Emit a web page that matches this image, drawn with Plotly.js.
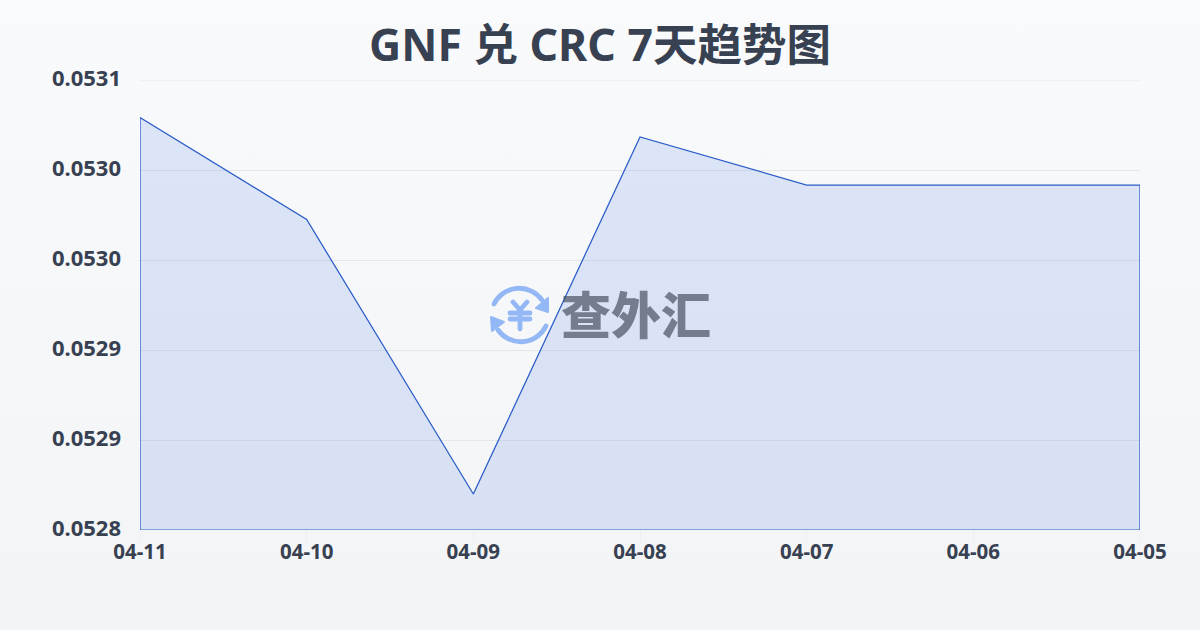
<!DOCTYPE html>
<html><head><meta charset="utf-8">
<script src="https://cdn.plot.ly/plotly-3.0.1.min.js"></script>
<style>
html,body{margin:0;padding:0;width:1200px;height:630px;overflow:hidden;background:linear-gradient(180deg,#f9fafc 0%,#f3f4f6 100%);}
#chart{width:1200px;height:630px;}
</style></head><body><div id="chart"></div>
<script>
const dates = ["04-11","04-10","04-09","04-08","04-07","04-06","04-05"];
const rates = [0.053075,0.053007,0.052824,0.053062,0.053030,0.053030,0.053030];
const yTicks = [0.0528,0.05286,0.05292,0.05298,0.05304,0.0531];
const yLabels = ["0.0528","0.0529","0.0529","0.0530","0.0530","0.0531"];
const yBase = 0.0528, yTop = 0.0531;
const titleText = "GNF 兑 CRC 7天趋势图";
const logoText = "查外汇";

const ink = "#374151";
const iconBlue = "#93b8f5";
const icon = `<svg xmlns="http://www.w3.org/2000/svg" width="240" height="240" viewBox="0 0 60 60"><g fill="none" stroke="${iconBlue}" stroke-width="4.8" stroke-linecap="round" stroke-linejoin="round"><path d="M4 19A28 28 0 0 1 52 15"/><path d="M56 41A28 28 0 0 1 8 45"/><path d="M23 17L30 25L37 17M30 25V44M20 28H40M20 34H40"/></g><path d="M58 13L58 27L46 23Z" fill="${iconBlue}" stroke="${iconBlue}" stroke-width="2" stroke-linejoin="round"/><path d="M1 32L2 46L14 37Z" fill="${iconBlue}" stroke="${iconBlue}" stroke-width="2" stroke-linejoin="round"/></svg>`;

const xs = [0,...dates.map((_,i)=>i),dates.length-1,0];
const ys = [yBase,...rates,yBase,yBase];

Plotly.newPlot("chart",[{
  type:"scatter",mode:"lines",x:xs,y:ys,fill:"toself",
  fillcolor:"rgba(37,97,224,0.135)",
  line:{color:"#2a5cc8",width:1.25},
  hoverinfo:"skip",cliponaxis:false
}],{
  width:1200,height:630,showlegend:false,
  paper_bgcolor:"rgba(0,0,0,0)",plot_bgcolor:"rgba(0,0,0,0)",
  margin:{l:140,r:60,t:80,b:100},
  title:{text:titleText,font:{family:"'Noto Sans','Noto Sans CJK SC',sans-serif",size:44.5,weight:700,color:ink},x:0.5,xanchor:"center",y:0.928,yanchor:"middle"},
  xaxis:{range:[0,6],tickmode:"array",tickvals:dates.map((_,i)=>i),ticktext:dates,showgrid:false,zeroline:false,showline:false,ticks:"outside",ticklen:11,tickcolor:"#eceef1",tickwidth:1,ticklabelstandoff:-8,
    tickfont:{family:"'Noto Sans',sans-serif",size:20.5,weight:700,color:ink}},
  yaxis:{range:[yBase,yTop],tickmode:"array",tickvals:yTicks,ticktext:yLabels,showgrid:true,gridcolor:"#e5e7eb",gridwidth:1,zeroline:false,showline:false,ticks:"",ticklabelstandoff:18,ticklabelshift:-2,
    tickfont:{family:"'Noto Sans',sans-serif",size:22,weight:700,color:ink}},
  shapes:[{type:"line",xref:"paper",yref:"y",x0:0,x1:1,y0:yTop,y1:yTop,line:{color:"#e5e7eb",width:1},layer:"below"}],
  images:[{source:"data:image/svg+xml;charset=utf-8,"+encodeURIComponent(icon),xref:"paper",yref:"paper",x:(490-140)/1000,y:1-(285-80)/450,sizex:60/1000,sizey:60/450,xanchor:"left",yanchor:"top",sizing:"contain",layer:"above"}],
  annotations:[{text:logoText,xref:"paper",yref:"paper",x:(636-140)/1000,y:1-(312-80)/450,xanchor:"center",yanchor:"middle",showarrow:false,font:{family:"'Noto Sans CJK SC',sans-serif",size:50,weight:900,color:"rgba(55,65,81,0.63)"}}]
},{displayModeBar:false,staticPlot:true});
</script></body></html>
